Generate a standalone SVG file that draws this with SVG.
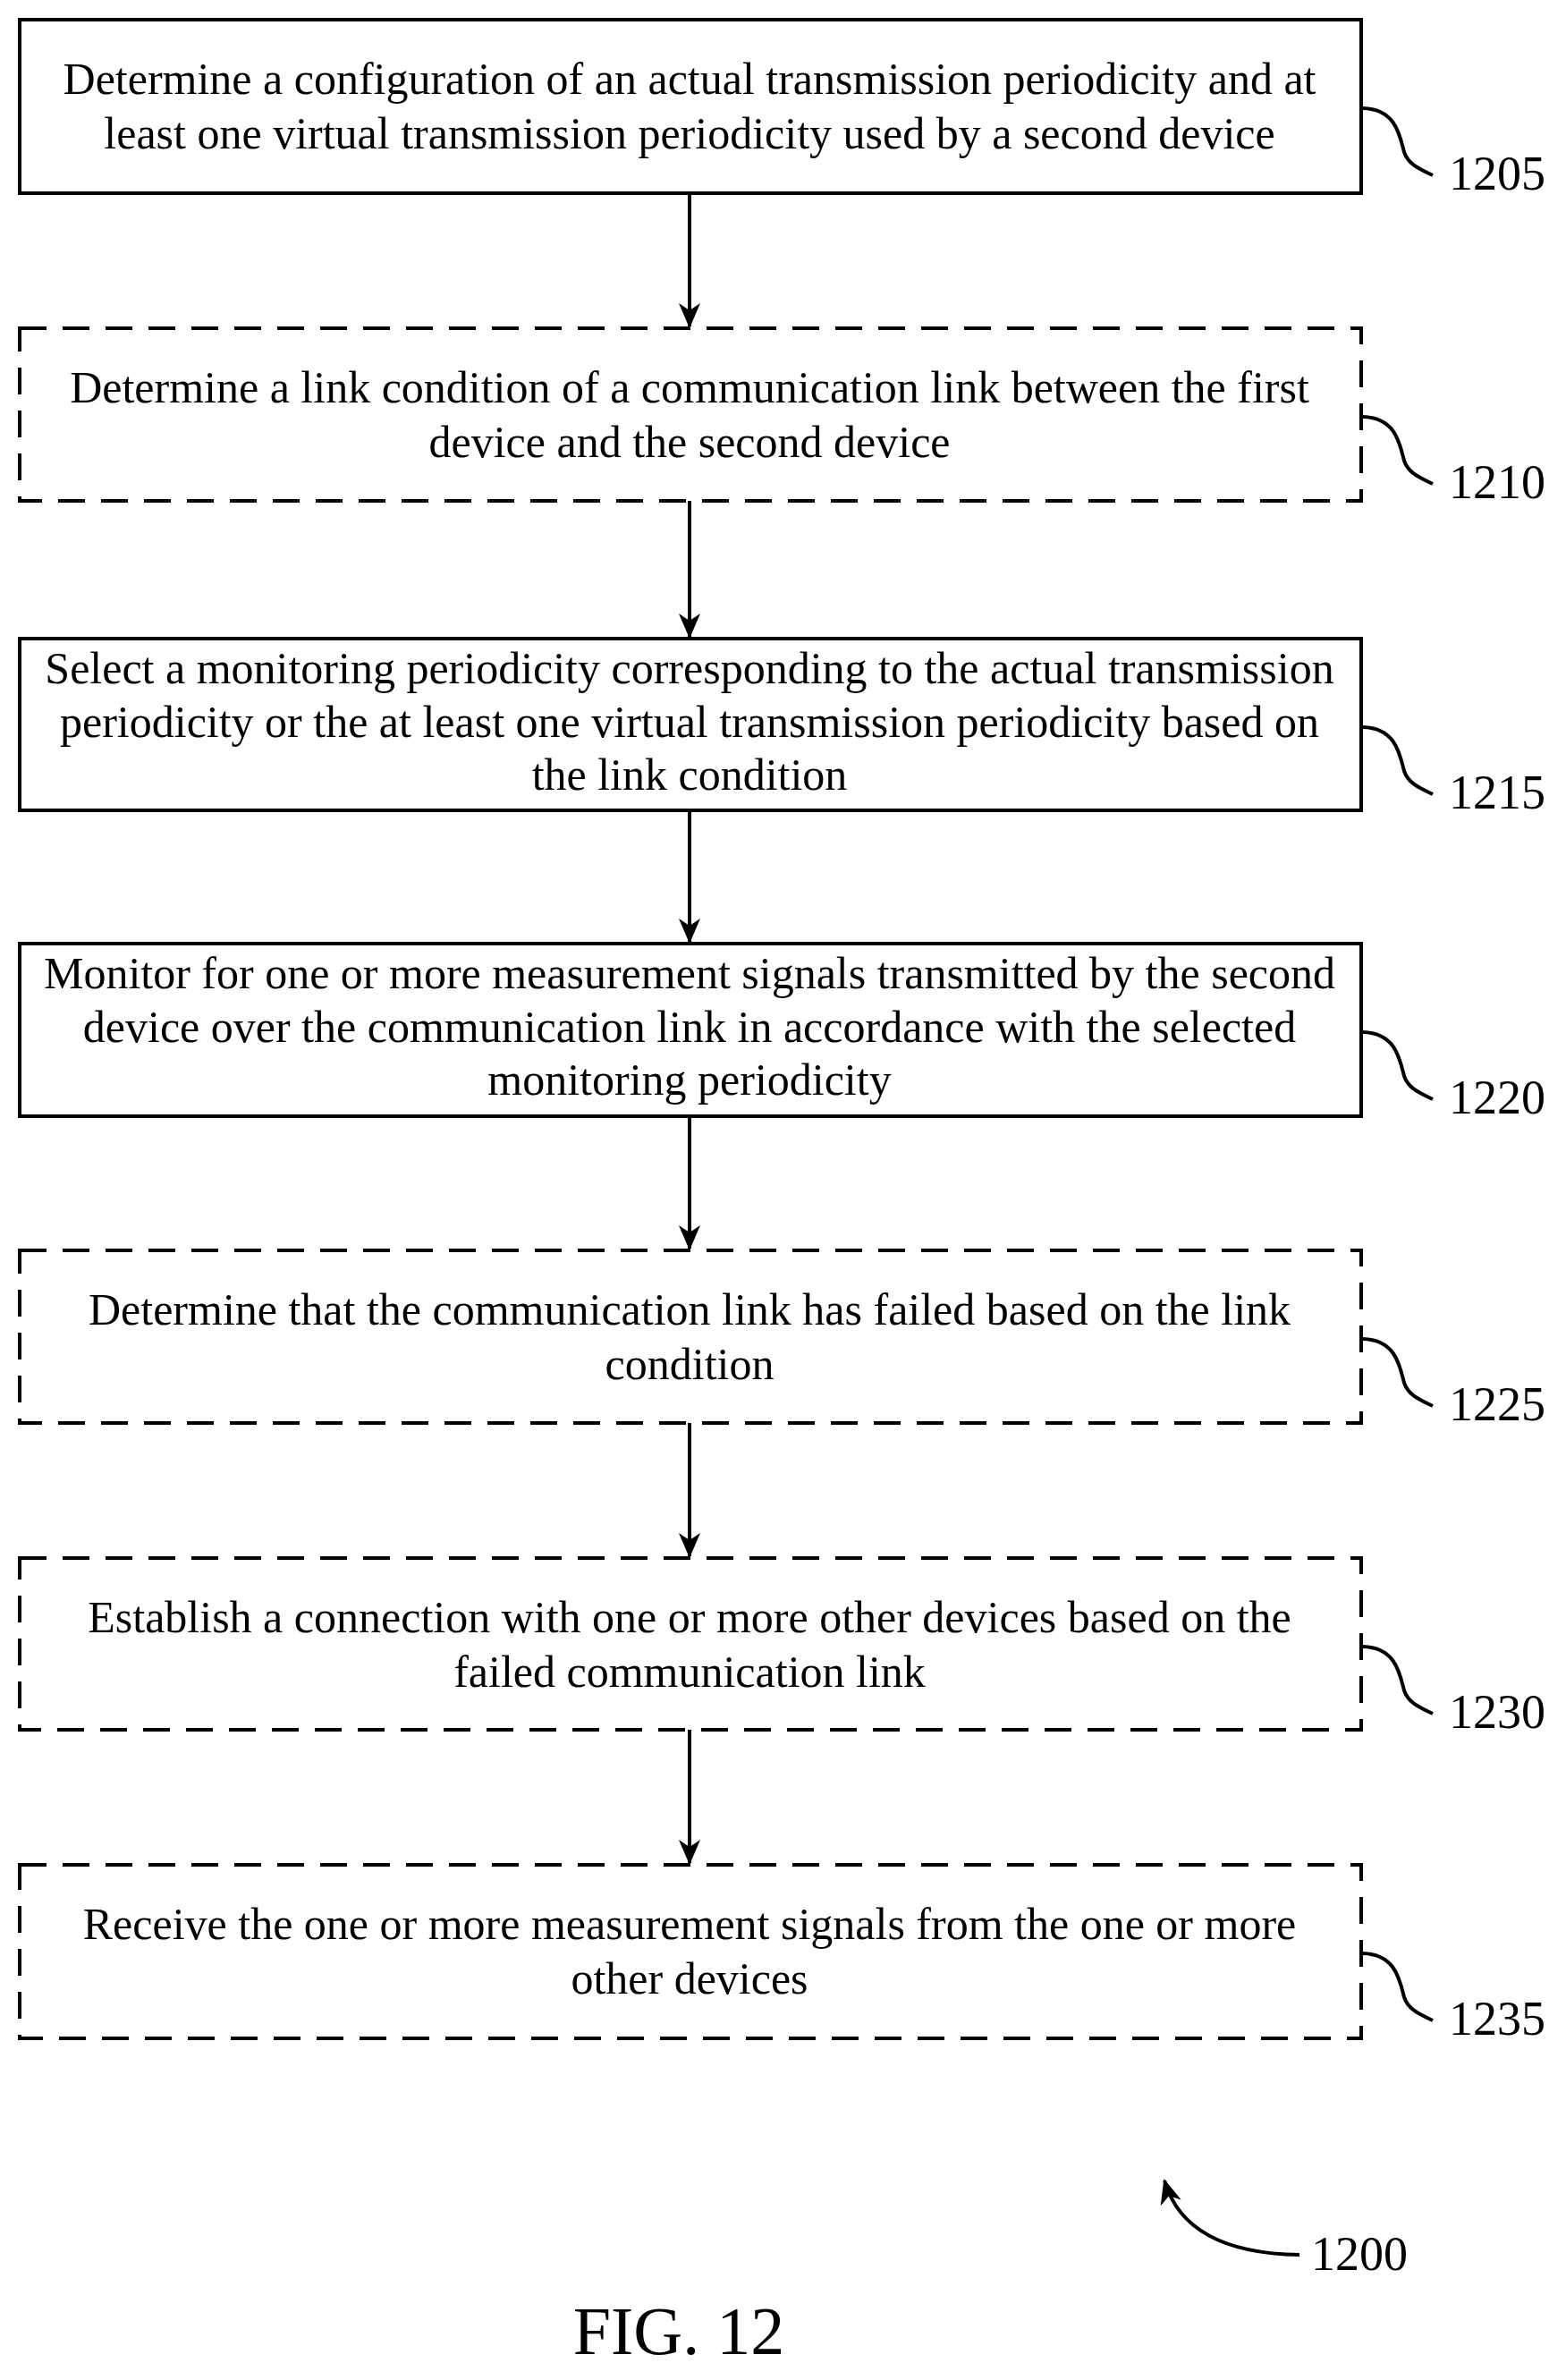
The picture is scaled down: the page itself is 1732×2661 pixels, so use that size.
<svg xmlns="http://www.w3.org/2000/svg" width="1732" height="2661" viewBox="0 0 1732 2661">
<style>
.b{fill:#fff;stroke:#000;stroke-width:4}
.d{stroke-dasharray:30,18}
text{font-family:"Liberation Serif",serif;font-size:50px;fill:#000;text-anchor:middle}
.l{text-anchor:start;font-size:54px}
.c{fill:none;stroke:#000;stroke-width:4}
</style>
<defs>
<marker id="m" markerWidth="28" markerHeight="28" refX="26" refY="14" orient="auto" markerUnits="userSpaceOnUse"><path d="M0,2L28,14L0,26L8,14z"/></marker></defs>
<g id="connectors">
<line class="c" x1="771" y1="216" x2="771" y2="365" marker-end="url(#m)"/>
<line class="c" x1="771" y1="560" x2="771" y2="712" marker-end="url(#m)"/>
<line class="c" x1="771" y1="906" x2="771" y2="1053" marker-end="url(#m)"/>
<line class="c" x1="771" y1="1248" x2="771" y2="1396" marker-end="url(#m)"/>
<line class="c" x1="771" y1="1591" x2="771" y2="1740" marker-end="url(#m)"/>
<line class="c" x1="771" y1="1934" x2="771" y2="2083" marker-end="url(#m)"/>
</g>
<g id="n1205"><rect class="b" x="22" y="22" width="1500" height="194"/><text x="771" y="105">Determine a configuration of an actual transmission periodicity and at</text><text x="771" y="166">least one virtual transmission periodicity used by a second device</text><path class="c" d="M1522,121C1560,121 1565,150 1570,170C1575,185 1590,190 1602,196"/><text class="l" x="1620" y="212">1205</text></g>
<g id="n1210"><rect class="b d" x="22" y="367" width="1500" height="193"/><text x="771" y="450">Determine a link condition of a communication link between the first</text><text x="771" y="511">device and the second device</text><path class="c" d="M1522,466C1560,466 1565,495 1570,515C1575,530 1590,535 1602,541"/><text class="l" x="1620" y="557">1210</text></g>
<g id="n1215"><rect class="b" x="22" y="714" width="1500" height="192"/><text x="771" y="764">Select a monitoring periodicity corresponding to the actual transmission</text><text x="771" y="824">periodicity or the at least one virtual transmission periodicity based on</text><text x="771" y="883">the link condition</text><path class="c" d="M1522,813C1560,813 1565,842 1570,862C1575,877 1590,882 1602,888"/><text class="l" x="1620" y="904">1215</text></g>
<g id="n1220"><rect class="b" x="22" y="1055" width="1500" height="193"/><text x="771" y="1105">Monitor for one or more measurement signals transmitted by the second</text><text x="771" y="1165">device over the communication link in accordance with the selected</text><text x="771" y="1224">monitoring periodicity</text><path class="c" d="M1522,1154C1560,1154 1565,1183 1570,1203C1575,1218 1590,1223 1602,1229"/><text class="l" x="1620" y="1245">1220</text></g>
<g id="n1225"><rect class="b d" x="22" y="1398" width="1500" height="193"/><text x="771" y="1481">Determine that the communication link has failed based on the link</text><text x="771" y="1542">condition</text><path class="c" d="M1522,1497C1560,1497 1565,1526 1570,1546C1575,1561 1590,1566 1602,1572"/><text class="l" x="1620" y="1588">1225</text></g>
<g id="n1230"><rect class="b d" x="22" y="1742" width="1500" height="192"/><text x="771" y="1825">Establish a connection with one or more other devices based on the</text><text x="771" y="1886">failed communication link</text><path class="c" d="M1522,1841C1560,1841 1565,1870 1570,1890C1575,1905 1590,1910 1602,1916"/><text class="l" x="1620" y="1932">1230</text></g>
<g id="n1235"><rect class="b d" x="22" y="2085" width="1500" height="194"/><text x="771" y="2168">Receive the one or more measurement signals from the one or more</text><text x="771" y="2229">other devices</text><path class="c" d="M1522,2184C1560,2184 1565,2213 1570,2233C1575,2248 1590,2253 1602,2259"/><text class="l" x="1620" y="2275">1235</text></g>
<g id="fig"><path class="c" d="M1453,2521C1380,2520 1320,2500 1302,2438" marker-end="url(#m)"/><text class="l" x="1466" y="2538">1200</text><text x="759" y="2632" style="font-size:76px">FIG. 12</text></g>
</svg>
